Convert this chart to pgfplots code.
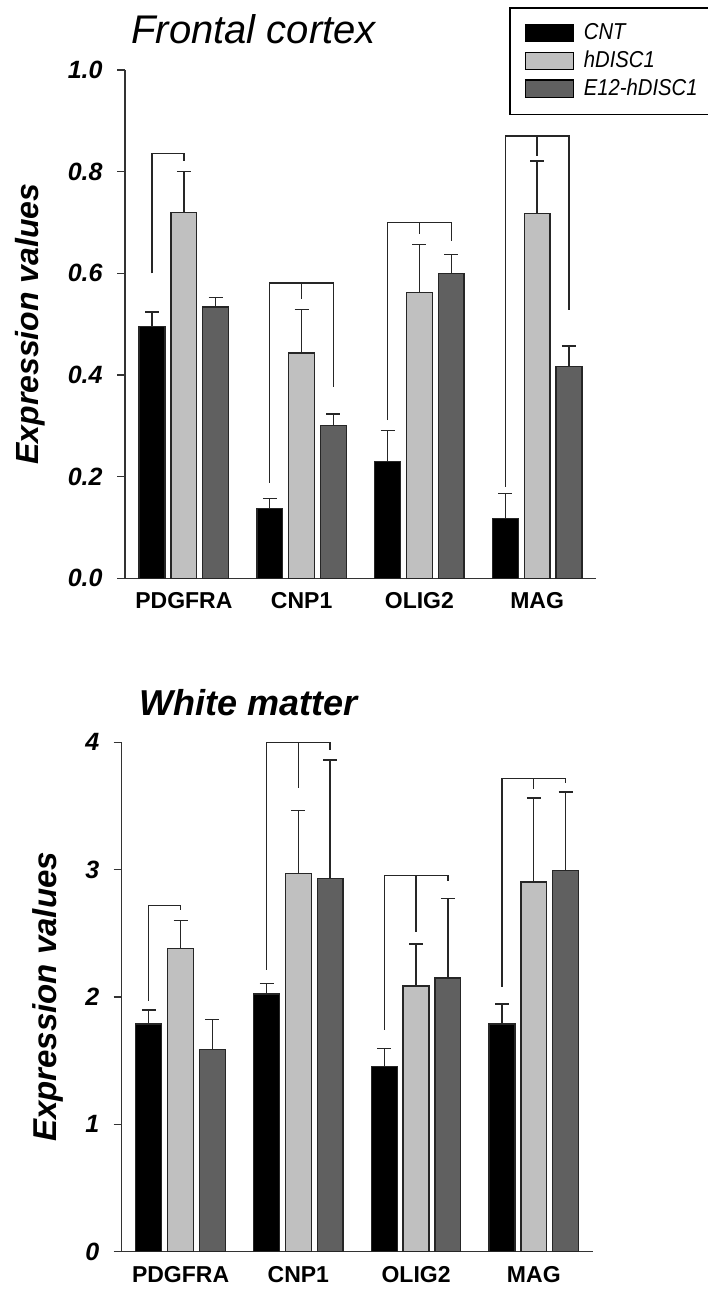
\documentclass[border=0pt]{standalone}
\usepackage{pgfplots}
\pgfplotsset{compat=1.18}
\usepackage{fontspec}
\setmainfont{Liberation Sans}
\newfontfamily\legfont[FakeStretch=0.88]{Liberation Sans}
\definecolor{lgray}{HTML}{C0C0C0}
\definecolor{dgray}{HTML}{606060}
\definecolor{axgray}{HTML}{333333}
\newcommand{\swatch}[1]{{\setlength{\fboxsep}{0pt}\setlength{\fboxrule}{0.6pt}\raisebox{-0.6pt}{\fcolorbox{black}{#1}{\rule{0pt}{8pt}\rule{23.5pt}{0pt}}}}}
\pgfplotsset{
  mybars/.style={
    scale only axis, width=235.5pt,
    xmin=-0.5, xmax=3.5, ymin=0,
    axis x line*=bottom, axis y line*=left,
    axis line style={line width=0.7pt, draw=axgray},
    xtick={0,1,2,3}, xticklabels={PDGFRA,CNP1,OLIG2,MAG},
    xtick style={draw=none},
    ytick style={line width=0.7pt, draw=axgray},
    tick align=outside, major tick length=4pt,
    yticklabel style={font=\fontsize{12.5}{14}\selectfont\bfseries\itshape, inner sep=0pt, xshift=-7pt},
    xticklabel style={font=\fontsize{11.5}{13}\selectfont\bfseries, inner sep=0pt, yshift=-3pt},
    clip=false,
  },
  mybar/.style={ybar, bar width=0.22, bar shift=0pt, draw=black!85, line width=0.65pt, forget plot,
    error bars/y dir=plus, error bars/y explicit,
    error bars/error bar style={line width=0.65pt, draw=black!85, solid},
    error bars/error mark options={rotate=90, mark size=3.5pt, line width=0.65pt, draw=black!85, solid}},
  brk/.style={draw=black!85, line width=0.65pt, mark=none, forget plot, sharp plot},
}
\begin{document}
\begin{tikzpicture}
\path[use as bounding box] (0,0) rectangle (353.5pt,645pt);
% ---------------- Top: Frontal cortex
\begin{axis}[mybars, at={(62.5pt,355.85pt)}, anchor=south west, height=254.15pt, ymax=1,
  ytick={0,0.2,0.4,0.6,0.8,1}, yticklabels={0.0,0.2,0.4,0.6,0.8,1.0},
  title={Frontal cortex},
  title style={at={(axis description cs:0.0127,1.029)}, anchor=base west, yshift=0pt, inner sep=0pt, font=\fontsize{20}{24}\selectfont\itshape},
  ylabel={Expression values},
  ylabel style={at={(axis description cs:-0.2017,0.5)}, anchor=center, font=\fontsize{16}{18}\selectfont\bfseries\itshape},
  legend style={at={(axis description cs:0.816,1.1233)}, anchor=north west, draw=black, line width=0.6pt, fill=white,
    inner xsep=5.5pt, inner ysep=6pt, row sep=0pt,
    cells={inner sep=0pt, minimum height=13pt},
    font=\legfont\itshape\fontsize{11.5}{13}\selectfont,
    /tikz/every odd column/.append style={column sep=0pt}},
  legend cell align=left,
]
\addplot[fill=black, mybar] table[x=x, y=y, y error=e] {
x y e
-0.27 0.495 0.029
0.73 0.137 0.020
1.73 0.230 0.061
2.73 0.118 0.049
};
\addplot[fill=lgray, mybar] table[x=x, y=y, y error=e] {
x y e
0 0.720 0.080
1 0.443 0.086
2 0.562 0.094
3 0.717 0.104
};
\addplot[fill=dgray, mybar] table[x=x, y=y, y error=e] {
x y e
0.27 0.534 0.019
1.27 0.300 0.023
2.27 0.599 0.038
3.27 0.416 0.041
};
\addplot[brk] coordinates {(-0.27,0.60) (-0.27,0.836) (0,0.836) (0,0.82)};
\addplot[brk] coordinates {(0.73,0.188) (0.73,0.581) (1.27,0.581) (1.27,0.377)};
\addplot[brk] coordinates {(1,0.581) (1,0.55)};
\addplot[brk] coordinates {(1.73,0.311) (1.73,0.70) (2.27,0.70) (2.27,0.663)};
\addplot[brk] coordinates {(2,0.70) (2,0.677)};
\addplot[brk] coordinates {(2.73,0.18) (2.73,0.87) (3.27,0.87) (3.27,0.528)};
\addplot[brk] coordinates {(3,0.87) (3,0.83)};
\addlegendimage{empty legend}
\addlegendentry{\swatch{black}\hspace{4.8pt}\makebox[57.5pt][l]{CNT}}
\addlegendimage{empty legend}
\addlegendentry{\swatch{lgray}\hspace{4.8pt}\makebox[57.5pt][l]{hDISC1}}
\addlegendimage{empty legend}
\addlegendentry{\swatch{dgray}\hspace{4.8pt}\makebox[57.5pt][l]{E12-hDISC1}}
\end{axis}
% ---------------- Bottom: White matter
\begin{axis}[mybars, at={(60.85pt,19.15pt)}, anchor=south west, height=254.7pt, ymax=4,
  ytick={0,1,2,3,4}, yticklabels={0,1,2,3,4},
  title={White matter},
  title style={at={(axis description cs:0.0367,1.029)}, anchor=base west, yshift=0pt, inner sep=0pt, font=\fontsize{18}{22}\selectfont\bfseries\itshape},
  ylabel={Expression values},
  ylabel style={at={(axis description cs:-0.1565,0.5)}, anchor=center, font=\fontsize{16.5}{18}\selectfont\bfseries\itshape},
]
\addplot[fill=black, mybar] table[x=x, y=y, y error=e] {
x y e
-0.27 1.789 0.110
0.73 2.024 0.084
1.73 1.453 0.145
2.73 1.789 0.157
};
\addplot[fill=lgray, mybar] table[x=x, y=y, y error=e] {
x y e
0 2.383 0.215
1 2.967 0.495
2 2.087 0.330
3 2.904 0.658
};
\addplot[fill=dgray, mybar] table[x=x, y=y, y error=e] {
x y e
0.27 1.590 0.236
1.27 2.928 0.934
2.27 2.148 0.628
3.27 2.991 0.618
};
\addplot[brk] coordinates {(-0.27,1.97) (-0.27,2.718) (0,2.718) (0,2.684)};
\addplot[brk] coordinates {(0.73,2.213) (0.73,4.0) (1.27,4.0) (1.27,3.94)};
\addplot[brk] coordinates {(1,4.0) (1,3.645)};
\addplot[brk] coordinates {(1.73,1.742) (1.73,2.954) (2.27,2.954) (2.27,2.912)};
\addplot[brk] coordinates {(2,2.954) (2,2.514)};
\addplot[brk] coordinates {(2.73,2.082) (2.73,3.713) (3.27,3.713) (3.27,3.68)};
\addplot[brk] coordinates {(3,3.713) (3,3.632)};
\end{axis}
\end{tikzpicture}
\end{document}
